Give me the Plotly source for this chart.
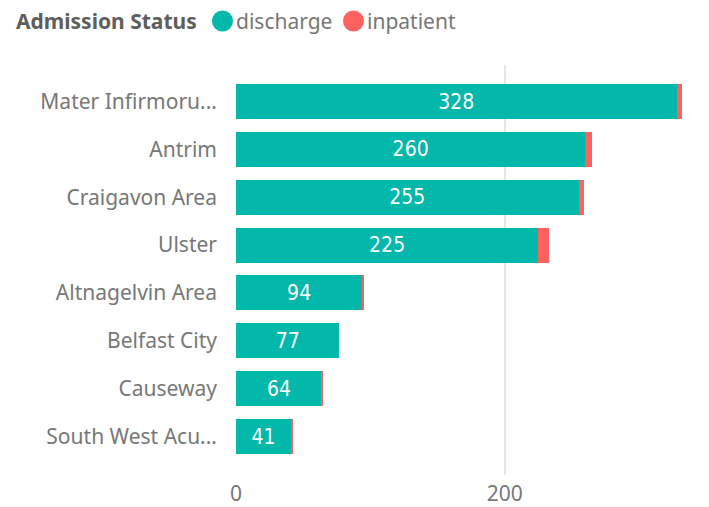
import plotly.graph_objects as go

hospitals = ["Mater Infirmoru...", "Antrim", "Craigavon Area", "Ulster",
             "Altnagelvin Area", "Belfast City", "Causeway", "South West Acu..."]
discharge = [328, 260, 255, 225, 94, 77, 64, 41]
inpatient = [4, 5, 4, 8, 1, 0, 1, 1]
x_ticks = [0, 200]
legend_title = "Admission Status"
series_names = ["discharge", "inpatient"]

TEAL = "#01B8AA"
RED = "#FD625E"
FONT = "Noto Sans, Open Sans, sans-serif"

# page body has 8px margin -> figure size compensated
W, H = 701, 499
L, R, T, B = 228, 9, 57, 32
PW, PH = W - L - R, H - T - B

def px_x(p):  # page x -> paper x
    return (p - 8 - L) / PW

def px_y(p):  # page y -> paper y
    return 1 + (T - (p - 8)) / PH

fig = go.Figure()
fig.add_trace(go.Bar(
    y=hospitals, x=discharge, orientation="h", name=series_names[0],
    marker=dict(color=TEAL, line=dict(width=0)),
    text=[str(v) for v in discharge], textposition="inside",
    insidetextanchor="middle",
    textfont=dict(color="white", size=21, family="DejaVu Sans Condensed, Roboto, sans-serif"),
    hoverinfo="x+y"))
fig.add_trace(go.Bar(
    y=hospitals, x=inpatient, orientation="h", name=series_names[1],
    marker=dict(color=RED, line=dict(width=0)),
    hoverinfo="x+y"))

# legend drawn as text + circles
fig.add_annotation(x=px_x(14), y=px_y(21), xref="paper", yref="paper",
                   xanchor="left", yanchor="middle", showarrow=False,
                   text=f"<b>{legend_title}</b>",
                   font=dict(size=21, color="#605E5C", family=FONT))
for name, col, cx in [(series_names[0], TEAL, 222.5), (series_names[1], RED, 353.5)]:
    fig.add_shape(type="circle", xref="paper", yref="paper",
                  xsizemode="pixel", ysizemode="pixel",
                  xanchor=px_x(cx), yanchor=px_y(21),
                  x0=-10.5, x1=10.5, y0=-10.5, y1=10.5,
                  fillcolor=col, line=dict(width=0))
    fig.add_annotation(x=px_x(cx + 11), y=px_y(21), xref="paper", yref="paper",
                       xanchor="left", yanchor="middle", showarrow=False,
                       text=name, font=dict(size=21, color="#777777", family=FONT))

fig.update_layout(
    width=W, height=H,
    barmode="stack", bargap=0.27,
    plot_bgcolor="white", paper_bgcolor="white",
    font=dict(family=FONT, color="#777777", size=21),
    margin=dict(l=L, r=R, t=T, b=B, autoexpand=False),
    xaxis=dict(range=[0, 345.4], tickvals=x_ticks, showgrid=True,
               gridcolor="#E6E6E6", gridwidth=1.5, zeroline=False,
               showline=False, ticks="", ticklabelstandoff=4, automargin=False,
               tickfont=dict(size=21, color="#777777")),
    yaxis=dict(categoryorder="array", categoryarray=hospitals,
               range=[7.804, -0.763], showgrid=False, zeroline=False,
               ticks="", ticklabelstandoff=18, automargin=False,
               tickfont=dict(size=21, color="#777777")),
    showlegend=False,
)

fig.write_html("out.html")
